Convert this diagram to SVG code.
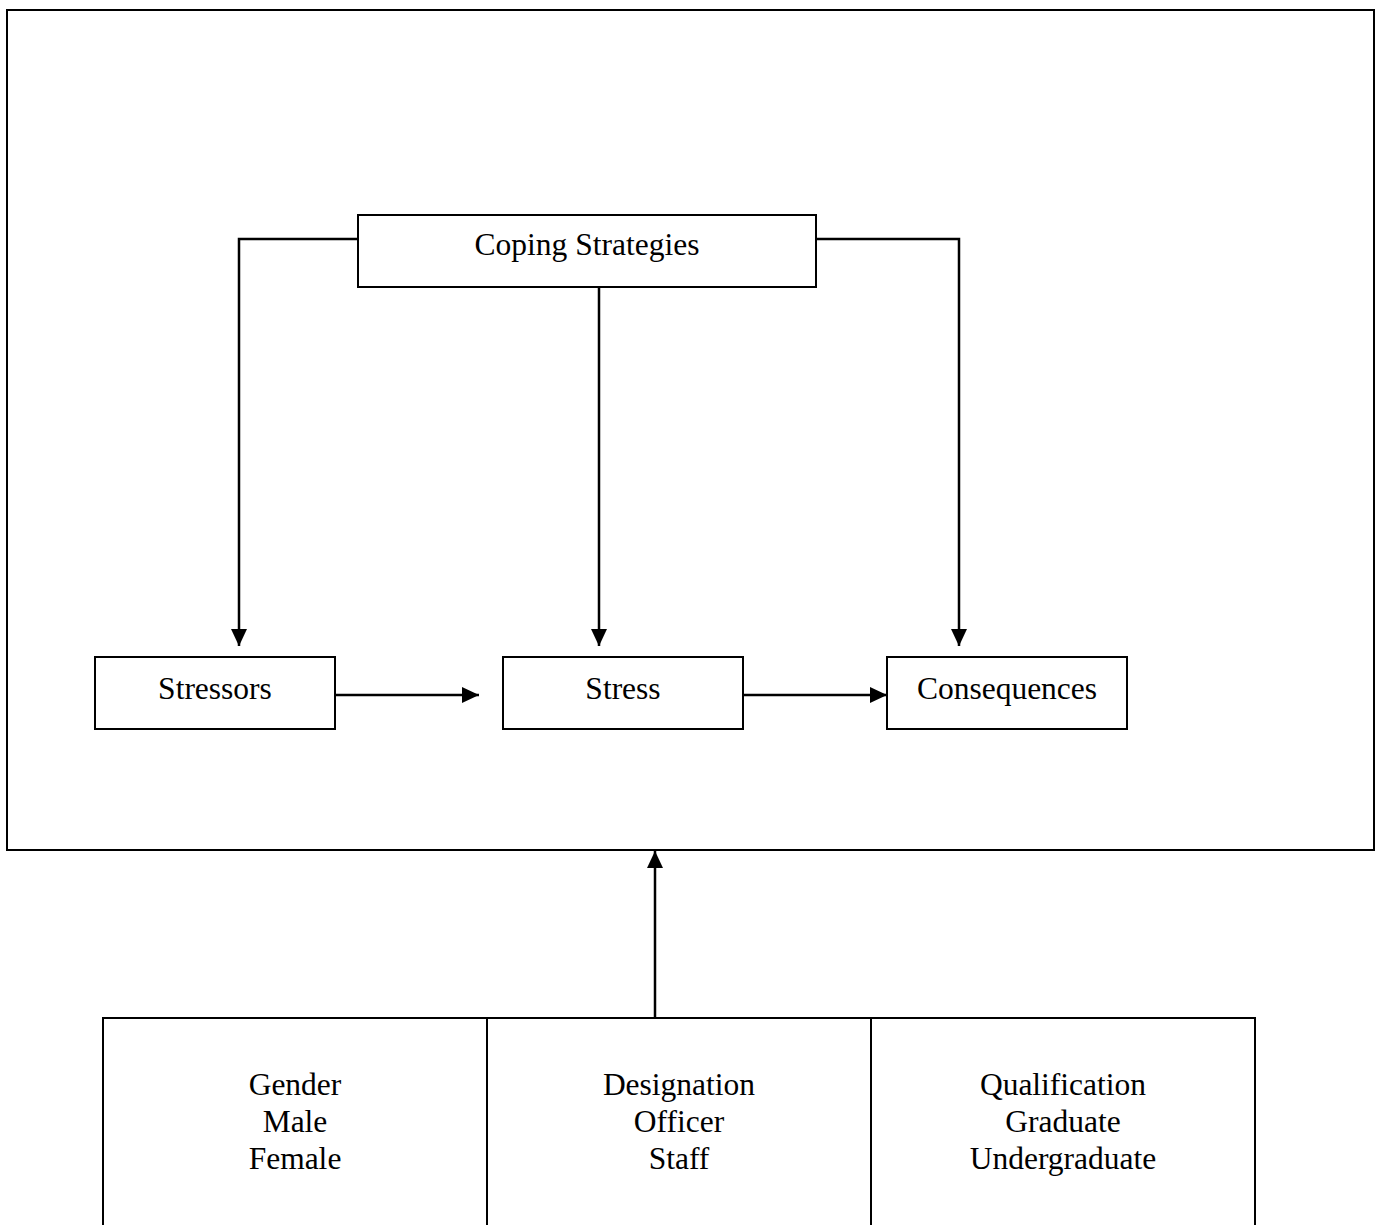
<svg xmlns="http://www.w3.org/2000/svg" width="1383" height="1225" viewBox="0 0 1383 1225">
<style>
.box{fill:#fff;stroke:#000;stroke-width:2}
.t{font-family:'Liberation Serif','Times New Roman','DejaVu Serif',serif;font-size:31.5px;fill:#000;text-anchor:middle}
.c{fill:none;stroke:#000;stroke-width:2.5}
</style>
<defs>
<marker id="ah" markerWidth="17" markerHeight="16" refX="17" refY="8" orient="auto" markerUnits="userSpaceOnUse">
<path d="M0,0 L17,8 L0,16 Z" fill="#000"/>
</marker>
</defs>
<rect width="1383" height="1225" fill="#fff"/>
<g id="frame"><rect class="box" x="7" y="10" width="1367" height="840"/></g>
<g id="coping"><rect class="box" x="358" y="215" width="458" height="72"/><text class="t" font-family="Liberation Serif, serif" x="587" y="255">Coping Strategies</text></g>
<g id="stressors"><rect class="box" x="95" y="657" width="240" height="72"/><text class="t" font-family="Liberation Serif, serif" x="215" y="699">Stressors</text></g>
<g id="stress"><rect class="box" x="503" y="657" width="240" height="72"/><text class="t" font-family="Liberation Serif, serif" x="623" y="699">Stress</text></g>
<g id="consequences"><rect class="box" x="887" y="657" width="240" height="72"/><text class="t" font-family="Liberation Serif, serif" x="1007" y="699">Consequences</text></g>
<g id="gender"><rect class="box" x="103" y="1018" width="384" height="220"/><text class="t" x="295" y="1095">Gender</text><text class="t" x="295" y="1132">Male</text><text class="t" x="295" y="1169">Female</text></g>
<g id="designation"><rect class="box" x="487" y="1018" width="384" height="220"/><text class="t" x="679" y="1095">Designation</text><text class="t" x="679" y="1132">Officer</text><text class="t" x="679" y="1169">Staff</text></g>
<g id="qualification"><rect class="box" x="871" y="1018" width="384" height="220"/><text class="t" x="1063" y="1095">Qualification</text><text class="t" x="1063" y="1132">Graduate</text><text class="t" x="1063" y="1169">Undergraduate</text></g>
<g id="connectors">
<path class="c" d="M358,239 H239 V646" marker-end="url(#ah)"/>
<path class="c" d="M599,287 V646" marker-end="url(#ah)"/>
<path class="c" d="M816,239 H959 V646" marker-end="url(#ah)"/>
<path class="c" d="M335,695 H479" marker-end="url(#ah)"/>
<path class="c" d="M743,695 H887" marker-end="url(#ah)"/>
<path class="c" d="M655,1018 V851" marker-end="url(#ah)"/>
</g>
</svg>
